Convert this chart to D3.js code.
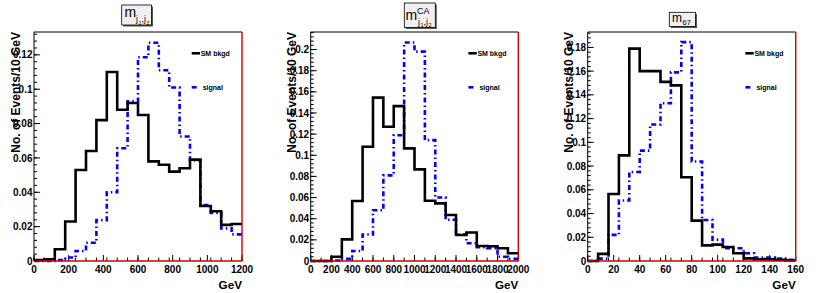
<!DOCTYPE html>
<html><head><meta charset="utf-8">
<script src="https://cdn.jsdelivr.net/npm/d3@7/dist/d3.min.js"></script>
<style>body{margin:0;background:#fff}svg{display:block}</style>
</head><body>
<svg id="c" width="830" height="293"></svg>
<script>
// ---------- data ----------
const nBins = 20;
const xMaxP1 = 1200, xMaxP2 = 2000, xMaxP3 = 160;
const yMaxP1 = 0.1333, yMaxP2 = 0.2166, yMaxP3 = 0.193;

const bkgP1 = [0.0005,0.001,0.0068,0.023,0.053,0.064,0.082,0.110,0.088,0.092,0.085,0.058,0.056,0.052,0.054,0.059,0.032,0.029,0.021,0.0215];
const sigP1 = [0,0,0.0006,0.002,0.0058,0.0106,0.0238,0.040,0.0656,0.093,0.1186,0.127,0.111,0.101,0.0725,0.0586,0.0325,0.028,0.019,0.0155];

const bkgP2 = [0,0,0.004,0.0205,0.0567,0.108,0.1545,0.127,0.1465,0.1065,0.0867,0.057,0.0545,0.0435,0.0246,0.027,0.0142,0.014,0.012,0.0073];
const sigP2 = [0,0,0.0005,0.002,0.0095,0.025,0.048,0.081,0.119,0.2066,0.198,0.1143,0.060,0.039,0.025,0.0168,0.013,0.012,0.004,0.002];

const bkgP3 = [0,0.006,0.0565,0.089,0.179,0.160,0.160,0.151,0.148,0.0706,0.034,0.0132,0.0138,0.0118,0.0065,0.0022,0.0015,0.0015,0.001,0.0005];
const sigP3 = [0,0.002,0.022,0.051,0.075,0.093,0.115,0.133,0.159,0.1845,0.0838,0.0346,0.018,0.0107,0.0107,0.0065,0.003,0.003,0.002,0.001];

const xTicksP1 = [0,200,400,600,800,1000,1200];
const xTicksP2 = [0,200,400,600,800,1000,1200,1400,1600,1800,2000];
const xTicksP3 = [0,20,40,60,80,100,120,140,160];
const yTicksP1 = [0,0.02,0.04,0.06,0.08,0.1,0.12];
const yTicksP2 = [0,0.02,0.04,0.06,0.08,0.1,0.12,0.14,0.16,0.18,0.2];
const yTicksP3 = [0,0.02,0.04,0.06,0.08,0.1,0.12,0.14,0.16,0.18];

const yTitle = "No. of Events/10 GeV";
const xTitle = "GeV";
const legendLabels = ["SM bkgd", "signal"];

// ---------- layout ----------
const svg = d3.select("#c");
const FONT = "'Liberation Sans', Arial, Helvetica, sans-serif";
const plotTop = 32, plotBottom = 261;

const panels = [
  {x0: 34,    x1: 242,   xMax: xMaxP1, yMax: yMaxP1, bkg: bkgP1, sig: sigP1, xt: xTicksP1, yt: yTicksP1},
  {x0: 310.7, x1: 518.3, xMax: xMaxP2, yMax: yMaxP2, bkg: bkgP2, sig: sigP2, xt: xTicksP2, yt: yTicksP2},
  {x0: 587.7, x1: 795.7, xMax: xMaxP3, yMax: yMaxP3, bkg: bkgP3, sig: sigP3, xt: xTicksP3, yt: yTicksP3}
];

const fmt = v => String(+v.toFixed(3));

panels.forEach((p) => {
  const g = svg.append("g");
  const x = d3.scaleLinear().domain([0, p.xMax]).range([p.x0, p.x1]);
  const y = d3.scaleLinear().domain([0, p.yMax]).range([plotBottom, plotTop]);
  const bw = p.xMax / nBins;

  g.append("line").attr("x1", p.x0).attr("x2", p.x1).attr("y1", plotTop).attr("y2", plotTop)
    .attr("stroke", "#000").attr("stroke-width", 1);
  g.append("line").attr("x1", p.x0).attr("x2", p.x0).attr("y1", plotTop).attr("y2", plotBottom)
    .attr("stroke", "#000").attr("stroke-width", 1);

  const yMinor = d3.range(0, p.yMax + 1e-9, 0.004);
  g.selectAll(".ymin").data(yMinor).enter().append("line")
    .attr("x1", p.x0).attr("x2", p.x0 + 3).attr("y1", d => y(d)).attr("y2", d => y(d))
    .attr("stroke", "#000").attr("stroke-width", 1);
  g.selectAll(".ymaj").data(p.yt).enter().append("line")
    .attr("x1", p.x0).attr("x2", p.x0 + 6).attr("y1", d => y(d)).attr("y2", d => y(d))
    .attr("stroke", "#000").attr("stroke-width", 1);
  g.selectAll(".ylab").data(p.yt).enter().append("text")
    .attr("x", p.x0 - 1.5).attr("y", d => y(d) + 3.6)
    .attr("text-anchor", "end").attr("font-family", FONT).attr("font-weight", "bold")
    .attr("font-size", 10).text(fmt);

  const edges = d3.range(0, nBins + 1).map(i => i * bw);
  g.selectAll(".xmin").data(edges).enter().append("line")
    .attr("x1", d => x(d)).attr("x2", d => x(d)).attr("y1", plotBottom).attr("y2", plotBottom - 3.5)
    .attr("stroke", "#000").attr("stroke-width", 1);
  g.selectAll(".xmaj").data(p.xt).enter().append("line")
    .attr("x1", d => x(d)).attr("x2", d => x(d)).attr("y1", plotBottom).attr("y2", plotBottom - 6)
    .attr("stroke", "#000").attr("stroke-width", 1);
  g.selectAll(".xlab").data(p.xt).enter().append("text")
    .attr("x", d => x(d)).attr("y", 273)
    .attr("text-anchor", "middle").attr("font-family", FONT).attr("font-weight", "bold")
    .attr("font-size", 10).text(d => String(d));

  const line = d3.line().x(d => x(d[0])).y(d => y(d[1])).curve(d3.curveStepAfter);
  const pts = arr => arr.map((v, i) => [i * bw, v]).concat([[p.xMax, arr[arr.length - 1]]]);

  g.append("path").attr("d", line(pts(p.sig))).attr("fill", "none")
    .attr("stroke", "#0000ff").attr("stroke-width", 2.6)
    .attr("stroke-dasharray", "5,3,1.5,3");
  g.append("path").attr("d", line(pts(p.bkg))).attr("fill", "none")
    .attr("stroke", "#000").attr("stroke-width", 2.6);

  g.append("line").attr("x1", p.x0).attr("x2", p.x1).attr("y1", plotBottom).attr("y2", plotBottom)
    .attr("stroke", "#cc0000").attr("stroke-width", 1.4);
  g.append("line").attr("x1", p.x1).attr("x2", p.x1).attr("y1", plotTop).attr("y2", plotBottom)
    .attr("stroke", "#cc0000").attr("stroke-width", 1.4);

  const ytx = p.x0 - 14.5;
  g.append("text").attr("transform", `translate(${ytx},${plotTop}) rotate(-90)`)
    .attr("text-anchor", "end").attr("font-family", FONT).attr("font-weight", "bold")
    .attr("font-size", 12).text(yTitle);

  g.append("text").attr("x", p.x1).attr("y", 289).attr("text-anchor", "end")
    .attr("font-family", FONT).attr("font-weight", "bold").attr("font-size", 11.7).text(xTitle);

  const lx = p.x0 + 157.7;
  g.append("line").attr("x1", lx).attr("x2", lx + 8.3).attr("y1", 53.3).attr("y2", 53.3)
    .attr("stroke", "#000").attr("stroke-width", 2.6);
  g.append("text").attr("x", lx + 9).attr("y", 55.8).attr("font-family", FONT)
    .attr("font-weight", "bold").attr("font-size", 7).text(legendLabels[0]);
  g.append("line").attr("x1", lx).attr("x2", lx + 5).attr("y1", 87.3).attr("y2", 87.3)
    .attr("stroke", "#0000ff").attr("stroke-width", 2.6);
  g.append("text").attr("x", lx + 11).attr("y", 89.8).attr("font-family", FONT)
    .attr("font-weight", "bold").attr("font-size", 7).text(legendLabels[1]);
});

function box(x0, y0, x1, y1) {
  svg.append("rect").attr("x", x0 + 1.5).attr("y", y0 + 1.5).attr("width", x1 - x0).attr("height", y1 - y0)
    .attr("fill", "#555");
  svg.append("rect").attr("x", x0).attr("y", y0).attr("width", x1 - x0).attr("height", y1 - y0)
    .attr("fill", "#f0f0f0").attr("stroke", "#000").attr("stroke-width", 0.8);
}
function txt(x, y, s, size) {
  svg.append("text").attr("x", x).attr("y", y).attr("font-family", FONT)
    .attr("font-size", size).text(s);
}
box(121.7, 5, 151.5, 25);
txt(124.5, 17, "m", 14);
txt(136, 22, "j", 8.5); txt(138.5, 24.5, "1", 5.5);
txt(141.5, 22, ",", 8.5);
txt(144, 22, "j", 8.5); txt(146.5, 24.5, "2", 5.5);
box(404.3, 3, 435.3, 27.5);
txt(405.5, 19.5, "m", 14);
txt(417, 13.5, "CA", 9);
txt(418, 24.5, "j", 8.5); txt(420.5, 27, "1", 5.5);
txt(423.5, 24.5, ",", 8.5);
txt(426, 24.5, "j", 8.5); txt(428.5, 27, "2", 5.5);
box(669.3, 12.3, 695.5, 26.5);
txt(672, 21.5, "m", 12);
txt(682.5, 25, "67", 7.5);
</script>
</body></html>
